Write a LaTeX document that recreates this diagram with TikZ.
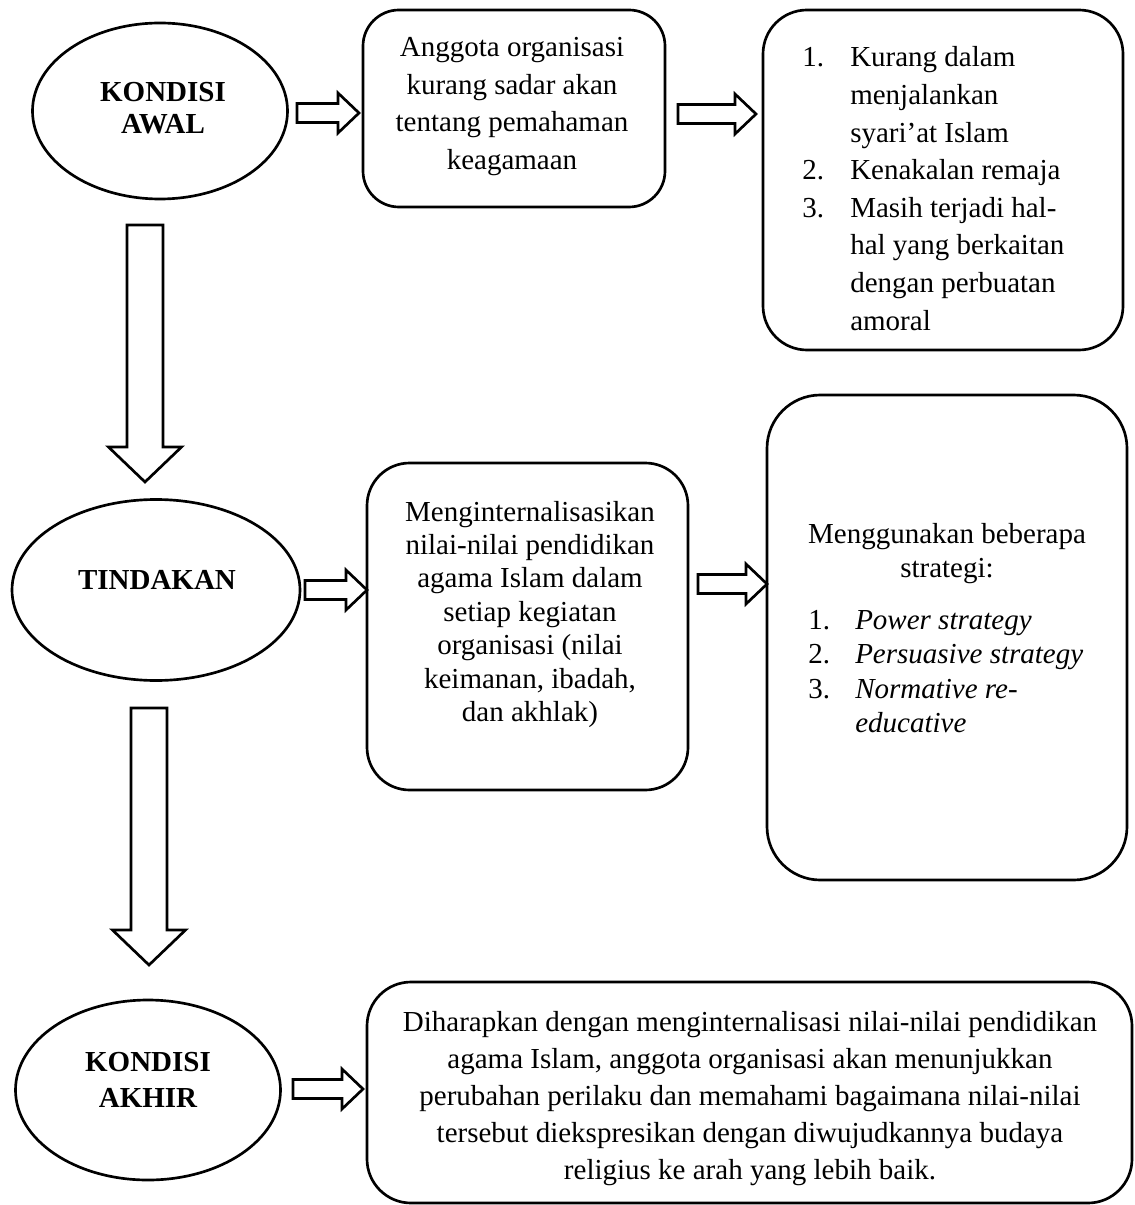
\documentclass[tikz,border=0pt]{standalone}
\usepackage{fontspec}
\setmainfont{Liberation Serif}
\usetikzlibrary{shapes.geometric,calc}
\newcommand\ctab[1]{\begin{tabular}[t]{@{}c@{}}#1\end{tabular}}
\newcommand\ltab[1]{\begin{tabular}[t]{@{}l@{}}#1\end{tabular}}
\newcommand\nb[2]{\makebox[#1][l]{#2}}
\newcommand\blockR[2]{%
  \draw[blk] let \p1=(#1), \p2=(#2) in
    (\x1,\y1+7.1pt) -- (\x2-15.75pt,\y1+7.1pt) -- (\x2-15.75pt,\y1+15pt) -- (\x2,\y1)
    -- (\x2-15.75pt,\y1-15pt) -- (\x2-15.75pt,\y1-7.1pt) -- (\x1,\y1-7.1pt) -- cycle;}
\newcommand\blockD[2]{%
  \draw[blk] let \p1=(#1), \p2=(#2) in
    (\x1-13.5pt,\y1) -- (\x1-13.5pt,\y2+26.25pt) -- (\x1-27.4pt,\y2+26.25pt) -- (\x2,\y2)
    -- (\x1+27.4pt,\y2+26.25pt) -- (\x1+13.5pt,\y2+26.25pt) -- (\x1+13.5pt,\y1) -- cycle;}
\begin{document}
\begin{tikzpicture}[x=0.75pt,y=-0.75pt,
  shapeline/.style={draw=black,line width=2pt,fill=white},
  oval/.style={shapeline,ellipse,inner sep=0pt},
  rbox/.style={shapeline,rectangle,inner sep=0pt},
  blk/.style={draw=black,line width=2pt,fill=white,line join=miter},
  txt/.style={inner sep=0pt,anchor=base,font=\fontsize{21.75}{28}\selectfont},
  ltxt/.style={inner sep=0pt,anchor=base west,font=\fontsize{21.75}{28}\selectfont}]
\useasboundingbox (0,0) rectangle (1134,1205);

% ellipses
\node[oval,minimum width=191.25pt,minimum height=132pt] (e1) at (160,111) {};
\node[oval,minimum width=216pt,minimum height=135.75pt] (e2) at (156,590) {};
\node[oval,minimum width=198.75pt,minimum height=135pt] (e3) at (148,1090) {};

% boxes
\node[rbox,rounded corners=27pt,minimum width=226.5pt,minimum height=147.75pt] (b1) at (514,108.5) {};
\node[rbox,rounded corners=33pt,minimum width=270pt,minimum height=255pt] (b2) at (943,180) {};
\node[rbox,rounded corners=32pt,minimum width=240.75pt,minimum height=245.25pt] (b3) at (527.5,626.5) {};
\node[rbox,rounded corners=40pt,minimum width=270pt,minimum height=363.75pt] (b4) at (947,637.5) {};
\node[rbox,rounded corners=33pt,minimum width=573.75pt,minimum height=165.75pt] (b5) at (749.5,1092.5) {};

% ellipse texts
\node[txt,font=\fontsize{21.75}{24}\selectfont\bfseries] (e1t) at (163,102) {\ctab{KONDISI\\AWAL}};
\node[txt,font=\fontsize{21.75}{24}\selectfont\bfseries] (e2t) at (157,589) {\ctab{TINDAKAN}};
\node[txt,font=\fontsize{21.75}{27}\selectfont\bfseries] (e3t) at (148,1071) {\ctab{KONDISI\\AKHIR}};

% box texts
\node[txt,font=\fontsize{21.75}{28.1}\selectfont] (b1t) at (512,57)
  {\ctab{Anggota organisasi\\kurang sadar akan\\tentang pemahaman\\keagamaan}};
\node[ltxt,font=\fontsize{21.75}{28.2}\selectfont] (b2t) at (802,67)
  {\ltab{\nb{36pt}{1.}Kurang dalam\\\nb{36pt}{}menjalankan\\\nb{36pt}{}syari’at Islam\\
   \nb{36pt}{2.}Kenakalan remaja\\\nb{36pt}{3.}Masih terjadi hal-\\\nb{36pt}{}hal yang berkaitan\\
   \nb{36pt}{}dengan perbuatan\\\nb{36pt}{}amoral}};
\node[txt,font=\fontsize{21.75}{25.1}\selectfont] (b3t) at (530,521)
  {\ctab{Menginternalisasikan\\nilai-nilai pendidikan\\agama Islam dalam\\setiap kegiatan\\organisasi (nilai\\keimanan, ibadah,\\dan akhlak)}};
\node[txt,font=\fontsize{21.75}{25.5}\selectfont] (b4h) at (947,543)
  {\ctab{Menggunakan beberapa\\strategi:}};
\node[ltxt,font=\fontsize{21.75}{25.9}\selectfont] (b4t) at (808,629)
  {\ltab{\nb{35.25pt}{1.}\textit{Power strategy}\\\nb{35.25pt}{2.}\textit{Persuasive strategy}\\
   \nb{35.25pt}{3.}\textit{Normative re-}\\\nb{35.25pt}{}\textit{educative}}};
\node[txt,font=\fontsize{21.75}{27.75}\selectfont] (b5t) at (750,1031)
  {\ctab{Diharapkan dengan menginternalisasi nilai-nilai pendidikan\\agama Islam, anggota organisasi akan menunjukkan\\perubahan perilaku dan memahami bagaimana nilai-nilai\\tersebut diekspresikan dengan diwujudkannya budaya\\religius ke arah yang lebih baik.}};

% block arrow end points
\coordinate (a1s) at (297,113); \coordinate (a1e) at (359,113);
\coordinate (a2s) at (678,114); \coordinate (a2e) at (756,114);
\coordinate (a3s) at (305,590); \coordinate (a3e) at (367,590);
\coordinate (a4s) at (698,584); \coordinate (a4e) at (767,584);
\coordinate (a5s) at (293,1089); \coordinate (a5e) at (363,1089);
\coordinate (d1s) at (145,225); \coordinate (d1e) at (145,482);
\coordinate (d2s) at (149,708); \coordinate (d2e) at (149,965);

\blockR{a1s}{a1e}
\blockR{a2s}{a2e}
\blockR{a3s}{a3e}
\blockR{a4s}{a4e}
\blockR{a5s}{a5e}
\blockD{d1s}{d1e}
\blockD{d2s}{d2e}
\end{tikzpicture}
\end{document}
